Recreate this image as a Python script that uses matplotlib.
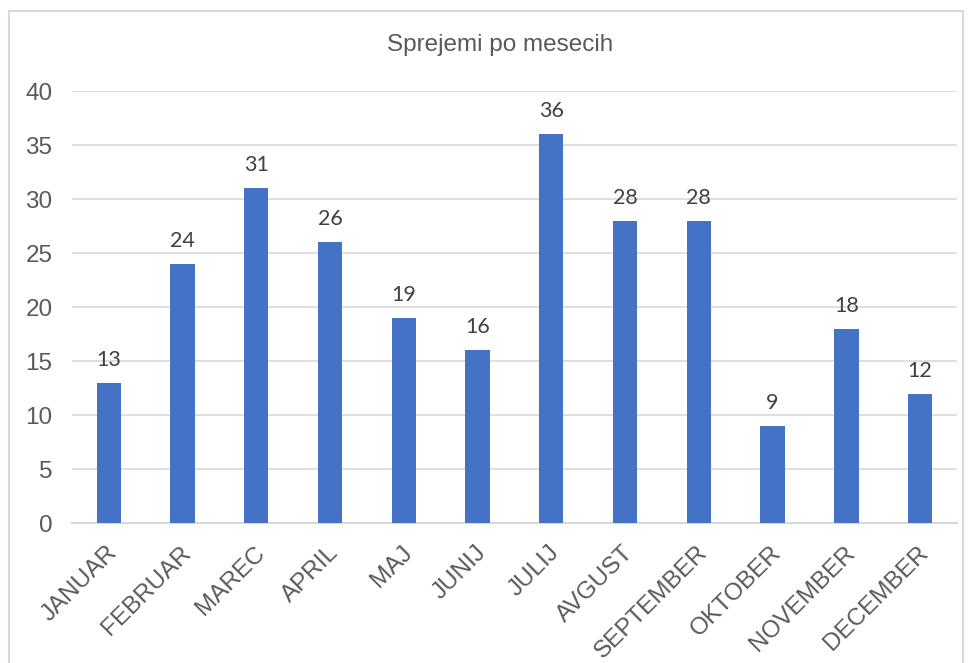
import matplotlib.pyplot as plt
from matplotlib.patches import Rectangle
from matplotlib.transforms import ScaledTranslation

months = ["JANUAR", "FEBRUAR", "MAREC", "APRIL", "MAJ", "JUNIJ", "JULIJ",
          "AVGUST", "SEPTEMBER", "OKTOBER", "NOVEMBER", "DECEMBER"]
counts = [13, 24, 31, 26, 19, 16, 36, 28, 28, 9, 18, 12]
yticks = [0, 5, 10, 15, 20, 25, 30, 35, 40]

plt.rcParams['font.family'] = ['Liberation Sans', 'DejaVu Sans']

fig = plt.figure(figsize=(9.71, 6.63), dpi=100)
ax = fig.add_axes([0.074, 0.211, 0.9116, 0.6516])

x = range(len(months))
ax.bar(x, counts, width=0.33, color="#4472C4", zorder=3)

for i, v in zip(x, counts):
    ax.text(i, v + 1.2, str(v), ha="center", va="bottom", fontsize=15.5,
            color="#404040", family="Lato")

ax.set_xlim(-0.5, len(months) - 0.5)
ax.set_ylim(0, 40)
ax.set_yticks(yticks)
ax.yaxis.grid(True, color="#d9d9d9", linewidth=1.2, zorder=0)
ax.set_axisbelow(True)

ax.set_xticks(list(x))
ax.set_xticklabels(months, rotation=45, ha="right", va="center",
                   rotation_mode="anchor")
ax.tick_params(axis="x", length=0, pad=19, labelsize=17.5, labelcolor="#595959")
ax.tick_params(axis="y", length=0, pad=14, labelsize=17.5, labelcolor="#595959")
shift = ScaledTranslation(5 / 100, 0, fig.dpi_scale_trans)
for lbl in ax.get_xticklabels():
    lbl.set_transform(lbl.get_transform() + shift)

for s in ["top", "right", "left"]:
    ax.spines[s].set_visible(False)
ax.spines["bottom"].set_color("#d9d9d9")
ax.spines["bottom"].set_linewidth(1.5)

fig.text(500 / 971, 1 - 45 / 663, "Sprejemi po mesecih", ha="center",
         va="center", fontsize=17.5, color="#595959")

fig.patches.append(Rectangle((9 / 971, -0.01), 954 / 971, 1 - 11 / 663 + 0.01,
                             transform=fig.transFigure, fill=False,
                             edgecolor="#d9d9d9", linewidth=1.5))

fig.savefig("out.png", dpi=100)
